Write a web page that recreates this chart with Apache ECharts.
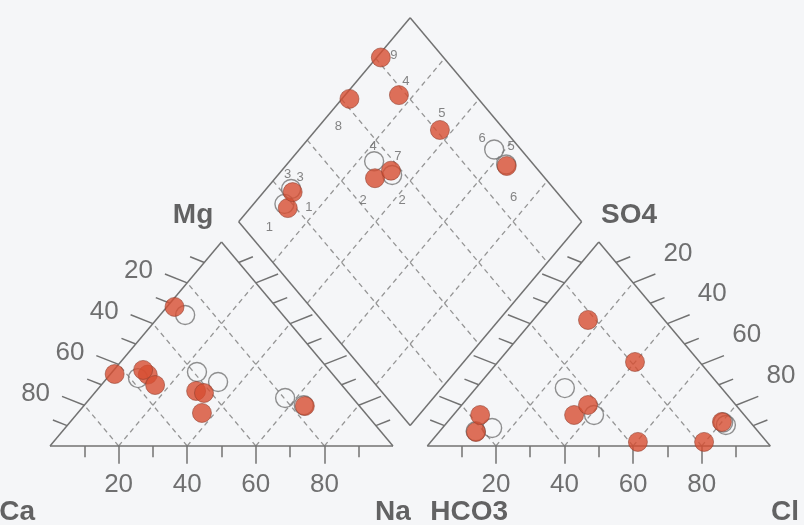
<!DOCTYPE html>
<html>
<head>
<meta charset="utf-8">
<script src="https://cdn.jsdelivr.net/npm/echarts@6/dist/echarts.min.js"></script>
<style>
  html, body { margin: 0; padding: 0; background: #f5f6f8; }
  #chart { width: 804px; height: 525px; }
</style>
</head>
<body>
<div id="chart"></div>
<script>
// ---- Sample data (percent of meq/L) ----
// Filled symbols: first sampling campaign
const filledIds = ['1', '2', '3', '4', '5', '6', '7', '8', '9'];
const filledNa  = [11.0, 29.1, 8.5, 15.7, 36.2, 64.5, 31.9, 2.2, 1.2];
const filledMg  = [35.0, 27.0, 37.3, 29.9, 16.2, 19.6, 26.0, 68.2, 35.3];
const filledSO4 = [6.9, 15.2, 15.2, 61.8, 41.2, 11.8, 20.1, 2.0, 2.0];
const filledCl  = [10.75, 35.2, 7.8, 15.95, 39.95, 80.0, 36.8, 60.4, 79.7];

// Open symbols: second sampling campaign
const openIds = ['1', '2', '3', '4', '5', '6'];
const openNa  = [9.0, 33.3, 7.3, 24.7, 64.0, 56.8];
const openMg  = [33.3, 31.4, 64.2, 36.3, 20.0, 23.5];
const openSO4 = [7.2, 15.2, 8.8, 28.4, 11.5, 10.3];
const openCl  = [10.5, 41.0, 14.5, 25.9, 80.5, 81.9];

// Axis tick values and corner names
const tickValues = [10, 20, 30, 40, 50, 60, 70, 80, 90];
const tickLabels = [20, 40, 60, 80];
const cornerNames = ['Ca', 'Na', 'Mg', 'HCO3', 'Cl', 'SO4'];

// ---- Layout ----
const W = 804, H = 525;
const X0 = 50, XS = 3.43;     // px position of Ca corner, px per unit horizontally
const Y0 = 446, YS = 2.355;   // px baseline, px per unit vertically
const S3 = Math.sqrt(3) / 2;
const GAP = 10;               // gap between the two triangles
const RT = 100 + GAP;         // x offset of the anion triangle

function cationXY(na, mg) { return [na + mg / 2, mg * S3]; }
function anionXY(cl, so4) { return [RT + cl + so4 / 2, so4 * S3]; }
function diamondXY(na, hco3) {
  const a = 1 - na / 100, b = 1 - hco3 / 100;
  return [105 + 50 * (b - a), GAP * S3 + 100 * S3 * (a + b)];
}

const solid = [];
const dashed = [];
const tickText = [];
function seg(list, p, q) { list.push({ coords: [p, q] }); }

// outlines
const triL = [[0, 0], [100, 0], [50, 100 * S3]];
const triR = [[RT, 0], [RT + 100, 0], [RT + 50, 100 * S3]];
const dB = [105, GAP * S3], dL = [55, (100 + GAP) * S3], dT = [105, (200 + GAP) * S3], dR = [155, (100 + GAP) * S3];
[[triL[0], triL[1]], [triL[1], triL[2]], [triL[2], triL[0]],
 [triR[0], triR[1]], [triR[1], triR[2]], [triR[2], triR[0]],
 [dB, dL], [dL, dT], [dT, dR], [dR, dB]].forEach(s => seg(solid, s[0], s[1]));

// ticks, perpendicular to each triangle edge
const MAJ = 7.5, MIN = 4.8;
function edgeTicks(ox, edge) {
  tickValues.forEach(v => {
    const t = v / 100;
    const len = (v % 20 === 0) ? MAJ : MIN;
    let p, n;
    if (edge === 'bottom') { p = [ox + v, 0]; n = [0, -1]; }
    else if (edge === 'left') { p = [ox + 50 * t, 100 * S3 * t]; n = [-S3, 0.5]; }
    else { p = [ox + 100 - 50 * t, 100 * S3 * t]; n = [S3, 0.5]; }
    seg(solid, p, [p[0] + n[0] * len, p[1] + n[1] * len]);
  });
}
['bottom', 'left', 'right'].forEach(e => { edgeTicks(0, e); edgeTicks(RT, e); });

// tick labels
tickLabels.forEach(v => {
  const t = 1 - v / 100;
  tickText.push({ value: [v, -16.3], name: String(v) });
  tickText.push({ value: [RT + v, -16.3], name: String(v) });
  tickText.push({ value: [50 * t - 14.2, 100 * S3 * t + 4.9], name: String(v) });
  tickText.push({ value: [RT + 100 - 50 * t + 13.1, 100 * S3 * t + 12.5], name: String(v) });
});

// dashed grid inside the triangles, drawn segment by segment from the lower end
function triGrid(toXY) {
  tickLabels.forEach(v => {
    for (let m = 0; m + 20 <= 100 - v + 1e-9; m += 20) {
      seg(dashed, toXY(v, m), toXY(v, m + 20));                          // constant right-corner share
      seg(dashed, toXY(100 - v - m, m), toXY(100 - v - m - 20, m + 20)); // constant left-corner share
    }
  });
}
triGrid((a, b) => cationXY(a, b));
triGrid((a, b) => anionXY(a, b));

// dashed grid inside the diamond
function dAB(a, b) { return [105 + 50 * (b - a), GAP * S3 + 100 * S3 * (a + b)]; }
[0.2, 0.4, 0.6, 0.8].forEach(k => {
  for (let j = 0; j < 5; j++) {
    const u = j * 0.2, w = u + 0.2;
    seg(dashed, dAB(k, u), dAB(k, w));
    seg(dashed, dAB(1 - u, k), dAB(1 - w, k));
  }
});

// corner names
const cornerPos = [[-9.6, -28], [100, -28], [41.7, 98], [RT + 12.2, -28], [RT + 104.3, -28], [RT + 58.8, 98]];
const cornerText = cornerNames.map((n, i) => ({ value: cornerPos[i], name: n }));

// sample points
function points(na, mg, so4, cl, ids) {
  const cat = [], an = [], dia = [];
  ids.forEach((id, i) => {
    cat.push({ value: cationXY(na[i], mg[i]), name: id });
    an.push({ value: anionXY(cl[i], so4[i]), name: id });
    dia.push({ value: diamondXY(na[i], 100 - so4[i] - cl[i]), name: id });
  });
  return { cat, an, dia };
}
const F = points(filledNa, filledMg, filledSO4, filledCl, filledIds);
const O = points(openNa, openMg, openSO4, openCl, openIds);

const filledOffsets = [[21, -1], [-12, 22], [-5, -18], [7, -14], [2, -17], [7, 31], [7, -14], [-11, 28], [13, -2]];
const openOffsets = [[-15, 24], [10, 25], [9, -12], [-1, -15], [5, -18], [-12, -11]];
F.dia.forEach((d, i) => { d.label = { offset: filledOffsets[i] }; });
O.dia.forEach((d, i) => { d.label = { offset: openOffsets[i] }; });

const filledStyle = { color: '#d74d31', borderColor: 'rgba(140,60,45,0.7)', borderWidth: 1 };
const openStyle = { color: 'rgba(255,255,255,0)', borderColor: '#747474', borderWidth: 1.4 };
const SZ = 19;

const idLabel = {
  show: true, position: 'inside', formatter: '{b}',
  color: '#666', fontSize: 13, fontFamily: 'Liberation Sans, Arial, sans-serif'
};

const chart = echarts.init(document.getElementById('chart'), null, { renderer: 'canvas', width: W, height: H });
chart.setOption({
  backgroundColor: '#f5f6f8',
  animation: false,
  grid: { left: 0, right: 0, top: 0, bottom: 0 },
  xAxis: { type: 'value', min: -X0 / XS, max: (W - X0) / XS, show: false },
  yAxis: { type: 'value', min: (Y0 - H) / YS, max: Y0 / YS, show: false },
  series: [
    { type: 'lines', coordinateSystem: 'cartesian2d', silent: true, z: 1,
      lineStyle: { color: '#959595', width: 1.3, type: [5, 4], opacity: 1 }, data: dashed },
    { type: 'lines', coordinateSystem: 'cartesian2d', silent: true, z: 2,
      lineStyle: { color: '#727272', width: 1.5, type: 'solid', opacity: 1 }, data: solid },
    { type: 'scatter', symbolSize: 0, silent: true, z: 3, data: tickText,
      label: { show: true, position: 'inside', formatter: '{b}', color: '#4d4d4d',
               fontSize: 26, fontFamily: 'Liberation Sans, Arial, sans-serif' } },
    { type: 'scatter', symbolSize: 0, silent: true, z: 3, data: cornerText,
      label: { show: true, position: 'inside', formatter: '{b}', color: '#3d3d3d', fontWeight: 'bold',
               fontSize: 28, fontFamily: 'Liberation Sans, Arial, sans-serif' } },
    { type: 'scatter', name: 'open', symbol: 'circle', symbolSize: SZ, z: 4,
      itemStyle: openStyle, data: O.cat.concat(O.an) },
    { type: 'scatter', name: 'open', symbol: 'circle', symbolSize: SZ, z: 4,
      itemStyle: openStyle, data: O.dia, label: idLabel },
    { type: 'scatter', name: 'filled', symbol: 'circle', symbolSize: SZ, z: 5,
      itemStyle: filledStyle, data: F.cat.concat(F.an) },
    { type: 'scatter', name: 'filled', symbol: 'circle', symbolSize: SZ, z: 5,
      itemStyle: filledStyle, data: F.dia, label: idLabel }
  ]
});
</script>
</body>
</html>
